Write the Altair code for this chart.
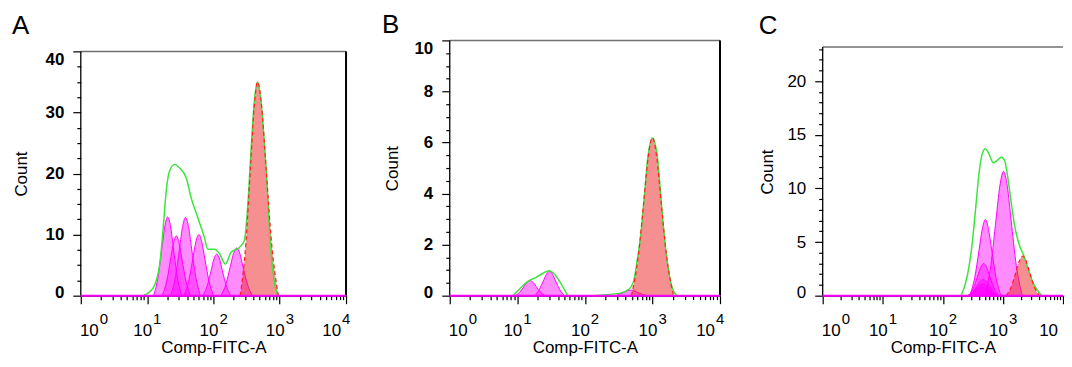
import altair as alt
import pandas as pd

FONT = "Liberation Sans"
MAGENTA = "#ff00ff"
RED = "#ee2222"
GREEN = "#3ee33e"

# x axis: decades (log10 exponents) and minor multipliers
x_decades = [0, 1, 2, 3, 4]
x_exp_labels = ["0", "1", "2", "3", "4"]
x_minor_mult = [1, 2, 3, 4, 5, 6, 7, 8, 9]

# ---------------- Panel A (x stored as log10 of Comp-FITC-A) ----------------
a_total_e = [0.937, 1.087, 1.188, 1.238, 1.288, 1.338, 1.414, 1.489, 1.589, 1.665, 1.764, 1.865, 1.915, 2.015,
             2.09, 2.18, 2.266, 2.391, 2.466, 2.516, 2.567, 2.617, 2.666, 2.717, 2.793, 2.868, 2.917, 2.98]
a_total_n = [0, 1.2, 5.0, 10.5, 17.1, 20.4, 21.5, 20.9, 19.3, 16.0, 12.8, 9.5, 7.6, 7.6,
             6.9, 5.2, 7.1, 7.9, 9.0, 14.4, 23.7, 31.8, 35.0, 31.8, 21.0, 7.3, 2.4, 0]
a_m1_e = [1.098, 1.166, 1.225, 1.268, 1.31, 1.353, 1.395, 1.455, 1.523]
a_m1_n = [0, 3.1, 7.9, 11.4, 12.9, 11.4, 7.9, 3.1, 0]
a_m2_e = [1.228, 1.296, 1.355, 1.398, 1.44, 1.483, 1.525, 1.585, 1.653]
a_m2_n = [0, 2.4, 6.0, 8.6, 9.8, 8.6, 6.0, 2.4, 0]
a_m3_e = [1.355, 1.427, 1.49, 1.535, 1.58, 1.625, 1.67, 1.733, 1.805]
a_m3_n = [0, 3.1, 7.8, 11.3, 12.8, 11.3, 7.8, 3.1, 0]
a_m4_e = [1.555, 1.627, 1.69, 1.735, 1.78, 1.825, 1.87, 1.933, 2.005]
a_m4_n = [0, 2.4, 6.1, 8.8, 10.0, 8.8, 6.1, 2.4, 0]
a_m5_e = [1.838, 1.906, 1.965, 2.008, 2.05, 2.093, 2.135, 2.195, 2.263]
a_m5_n = [0, 1.6, 4.1, 6.0, 6.8, 6.0, 4.1, 1.6, 0]
a_m6_e = [2.113, 2.189, 2.255, 2.303, 2.35, 2.398, 2.445, 2.512, 2.588]
a_m6_n = [0, 1.9, 4.8, 6.9, 7.8, 6.9, 4.8, 1.9, 0]
a_red_e = [2.404, 2.488, 2.561, 2.614, 2.666, 2.729, 2.791, 2.879, 2.979]
a_red_n = [0, 8.4, 21.4, 30.8, 35.0, 30.8, 21.4, 8.4, 0]

# ---------------- Panel B ----------------
b_total1_e = [0.935, 1.033, 1.156, 1.279, 1.377, 1.466, 1.55, 1.648, 1.746]
b_total1_n = [0, 0.26, 0.56, 0.72, 0.87, 0.98, 0.85, 0.46, 0]
b_total2_e = [2.116, 2.313, 2.509, 2.657, 2.72, 2.77, 2.829, 2.878, 2.927, 3.001, 3.075, 3.124, 3.173, 3.247,
              3.321, 3.37]
b_total2_n = [0, 0.04, 0.09, 0.26, 0.55, 1.3, 2.4, 3.8, 5.3, 6.18, 5.4, 3.9, 2.4, 0.85, 0.13, 0]
b_m1_e = [0.965, 1.037, 1.1, 1.145, 1.19, 1.235, 1.28, 1.343, 1.415]
b_m1_n = [0, 0.14, 0.36, 0.52, 0.59, 0.52, 0.36, 0.14, 0]
b_m2_e = [1.251, 1.323, 1.386, 1.431, 1.476, 1.521, 1.566, 1.629, 1.701]
b_m2_n = [0, 0.23, 0.58, 0.84, 0.95, 0.84, 0.58, 0.23, 0]
b_m3_e = [2.43, 2.51, 2.58, 2.63, 2.68, 2.73, 2.78, 2.85, 2.93]
b_m3_n = [0, 0.05, 0.13, 0.19, 0.22, 0.19, 0.13, 0.05, 0]
b_red_e = [2.688, 2.788, 2.875, 2.938, 3.0, 3.063, 3.125, 3.213, 3.313]
b_red_n = [0, 1.48, 3.77, 5.44, 6.18, 5.44, 3.77, 1.48, 0]

# ---------------- Panel C ----------------
c_total_e = [2.306, 2.413, 2.493, 2.547, 2.6, 2.654, 2.708, 2.761, 2.841, 2.921, 2.975, 3.029, 3.082, 3.135,
             3.189, 3.269, 3.35, 3.43, 3.51, 3.644]
c_total_n = [0, 2.0, 5.1, 8.2, 11.3, 13.2, 13.7, 13.3, 12.4, 12.7, 12.9, 12.6, 11.0, 8.8,
             6.7, 4.8, 3.7, 2.3, 1.1, 0]
c_m1_e = [2.698, 2.798, 2.885, 2.948, 3.01, 3.073, 3.135, 3.223, 3.323]
c_m1_n = [0, 2.8, 7.1, 10.2, 11.6, 10.2, 7.1, 2.8, 0]
c_m2_e = [2.448, 2.531, 2.604, 2.656, 2.708, 2.76, 2.812, 2.885, 2.968]
c_m2_n = [0, 1.7, 4.3, 6.2, 7.1, 6.2, 4.3, 1.7, 0]
c_m3_e = [2.43, 2.51, 2.58, 2.63, 2.68, 2.73, 2.78, 2.85, 2.93]
c_m3_n = [0, 0.72, 1.83, 2.64, 3.0, 2.64, 1.83, 0.72, 0]
c_m4_e = [2.42, 2.5, 2.57, 2.62, 2.67, 2.72, 2.77, 2.84, 2.92]
c_m4_n = [0, 0.36, 0.92, 1.32, 1.5, 1.32, 0.92, 0.36, 0]
c_m5_e = [2.41, 2.49, 2.56, 2.61, 2.66, 2.71, 2.76, 2.83, 2.91]
c_m5_n = [0, 0.26, 0.67, 0.97, 1.1, 0.97, 0.67, 0.26, 0]
c_m6_e = [2.40, 2.48, 2.55, 2.60, 2.65, 2.70, 2.75, 2.82, 2.90]
c_m6_n = [0, 0.19, 0.49, 0.7, 0.8, 0.7, 0.49, 0.19, 0]
c_red_e = [3.055, 3.143, 3.22, 3.275, 3.33, 3.385, 3.44, 3.517, 3.605]
c_red_n = [0, 0.89, 2.26, 3.26, 3.7, 3.26, 2.26, 0.89, 0]

PLOT_H = 256


def series_df(series):
    rows = []
    for name, (es, ns) in series.items():
        for e, n in zip(es, ns):
            rows.append({"comp": name, "e": e, "n": n})
    return pd.DataFrame(rows)


x_ticks = [m * 10 ** d for d in range(4) for m in x_minor_mult] + [10000]


def make_panel(letter, mags, red, totals, frame_top, ydomain_top, yticks, ymajor, top_label,
               width, title_dx, count_x, count_y, bold, right_border, last_exponent=True):
    height = PLOT_H
    xscale = alt.Scale(type="log", domain=[1, 10000], nice=False)
    yscale = alt.Scale(domain=[0, ydomain_top], nice=False, zero=True)
    xaxis = alt.Axis(
        values=x_ticks, labels=False, grid=False,
        tickSize={"condition": {"test": "indexof([1,10,100,1000,10000], datum.value) >= 0", "value": 8},
                  "value": 4},
        title="Comp-FITC-A", titleFont=FONT, titleFontSize=17, titleFontWeight="normal",
        titleY=57, titleBaseline="alphabetic", titleColor="black",
        domainColor="black", tickColor="black", domainWidth=1.2, tickWidth=1.2,
    )
    yaxis = alt.Axis(
        values=yticks, grid=False, labelOverlap=False, labelFlush=False, domain=False,
        labelExpr=f"datum.value % {ymajor} == 0 ? format(datum.value, 'd') : ''",
        tickSize={"condition": {"test": f"datum.value % {ymajor} == 0", "value": 8}, "value": 4},
        labelBaseline={"condition": {"test": f"datum.value == {top_label}", "value": "top"},
                       "value": "middle"},
        labelOffset={"condition": {"test": "datum.value == 0", "value": -3}, "value": 0},
        labelPadding=9, labelFont=FONT, labelFontSize=17,
        labelFontWeight="bold" if bold else "normal", labelColor="black",
        title="Count", titleFont=FONT, titleFontSize=17, titleFontWeight="normal",
        titleAngle=270, titleX=count_x, titleY=count_y, titleBaseline="alphabetic",
        titleColor="black", tickColor="black", tickWidth=1.2,
    )
    X = alt.X("v:Q", scale=xscale, axis=xaxis)
    Y = alt.Y("n:Q", scale=yscale, axis=yaxis, stack=None)

    mag_df = series_df(mags)
    red_df = series_df({"red": red})
    tot_df = series_df(totals)

    mag_layer = alt.Chart(mag_df).transform_calculate(v="pow(10, datum.e)").mark_area(
        interpolate="monotone", fill=MAGENTA, fillOpacity=0.45, stroke=MAGENTA, strokeWidth=1
    ).encode(x=X, y=Y, detail="comp:N")
    red_area = alt.Chart(red_df).transform_calculate(v="pow(10, datum.e)").mark_area(
        interpolate="monotone", fill=RED, fillOpacity=0.5, strokeWidth=0
    ).encode(x=X, y=Y)
    green_line = alt.Chart(tot_df).transform_calculate(v="pow(10, datum.e)").mark_line(
        interpolate="monotone", color=GREEN, strokeWidth=1.5
    ).encode(x=X, y=Y, detail="comp:N")
    red_line = alt.Chart(red_df).transform_calculate(v="pow(10, datum.e)").mark_line(
        interpolate="monotone", color="#ff2020", strokeWidth=1.2, strokeDash=[4, 3]
    ).encode(x=X, y=Y)

    # frame: left edge, top edge, right edge and the zero baseline, in data units
    edge_df = pd.DataFrame({"v": [1], "v2": [10000], "n": [0], "n2": [frame_top]})
    edges = alt.Chart(edge_df)
    layers = [mag_layer, red_area, green_line, red_line]
    layers.append(edges.mark_rule(color="#707070", strokeWidth=1.5).encode(
        x=X, x2="v2:Q", y=alt.Y("n2:Q", scale=yscale, axis=yaxis)))
    layers.append(edges.mark_rule(color="black", strokeWidth=1.3).encode(x=X, y=Y, y2="n2:Q"))
    if right_border:
        layers.append(edges.mark_rule(color="black", strokeWidth=2).encode(
            x=alt.X("v2:Q", scale=xscale, axis=xaxis), y=Y, y2="n2:Q"))
    layers.append(edges.mark_rule(color=MAGENTA, strokeWidth=2).encode(x=X, x2="v2:Q", y=Y))

    lab_df = pd.DataFrame({"e": x_decades, "exp": x_exp_labels})
    for cond, dxb, dxe, show_exp in [("datum.e == 0", 18, 19, True),
                                     ("datum.e > 0 && datum.e < 4", 5, 6, True),
                                     ("datum.e == 4", -5, -4, last_exponent)]:
        base = alt.Chart(lab_df).transform_calculate(v="pow(10, datum.e)").transform_filter(cond)
        layers.append(base.mark_text(text="10", align="right", baseline="alphabetic", dx=dxb,
                                     font=FONT, fontSize=17, color="black").encode(
            x=X, y=alt.value(height + 40)))
        if show_exp:
            layers.append(base.mark_text(align="left", baseline="alphabetic", dx=dxe,
                                         font=FONT, fontSize=15, color="black").encode(
                x=X, y=alt.value(height + 28), text="exp:N"))

    return alt.layer(*layers).properties(
        width=width, height=height,
        title=alt.TitleParams(letter, anchor="start", frame="group", dx=title_dx, offset=1,
                              font=FONT, fontSize=26, fontWeight="normal", color="black"),
    )


panel_a = make_panel(
    "A",
    {"m1": (a_m1_e, a_m1_n), "m2": (a_m2_e, a_m2_n), "m3": (a_m3_e, a_m3_n),
     "m4": (a_m4_e, a_m4_n), "m5": (a_m5_e, a_m5_n), "m6": (a_m6_e, a_m6_n)},
    (a_red_e, a_red_n), {"t": (a_total_e, a_total_n)},
    40, 41.8, [i * 2.5 for i in range(17)], 10, 40, 266, -69, -54, 133.5, True, True)

panel_b = make_panel(
    "B",
    {"m1": (b_m1_e, b_m1_n), "m2": (b_m2_e, b_m2_n), "m3": (b_m3_e, b_m3_n)},
    (b_red_e, b_red_n), {"t1": (b_total1_e, b_total1_n), "t2": (b_total2_e, b_total2_n)},
    10, 10, [i * 0.5 for i in range(21)], 2, 10, 271, -68, -52, 128, True, True)

panel_c = make_panel(
    "C",
    {"m1": (c_m1_e, c_m1_n), "m2": (c_m2_e, c_m2_n), "m3": (c_m3_e, c_m3_n),
     "m4": (c_m4_e, c_m4_n), "m5": (c_m5_e, c_m5_n), "m6": (c_m6_e, c_m6_n)},
    (c_red_e, c_red_n), {"t": (c_total_e, c_total_n)},
    23.2, 23.81, list(range(24)), 5, -1, 241, -64, -50, 131.5, False, False, last_exponent=False)

chart = alt.hconcat(panel_a, alt.hconcat(panel_b, panel_c, spacing=34), spacing=31).properties(
    padding={"left": 4, "top": 4, "right": 0, "bottom": 0},
    background="white",
).configure_view(strokeWidth=0)

chart.save("out.html", embed_options={"renderer": "svg", "actions": False})
